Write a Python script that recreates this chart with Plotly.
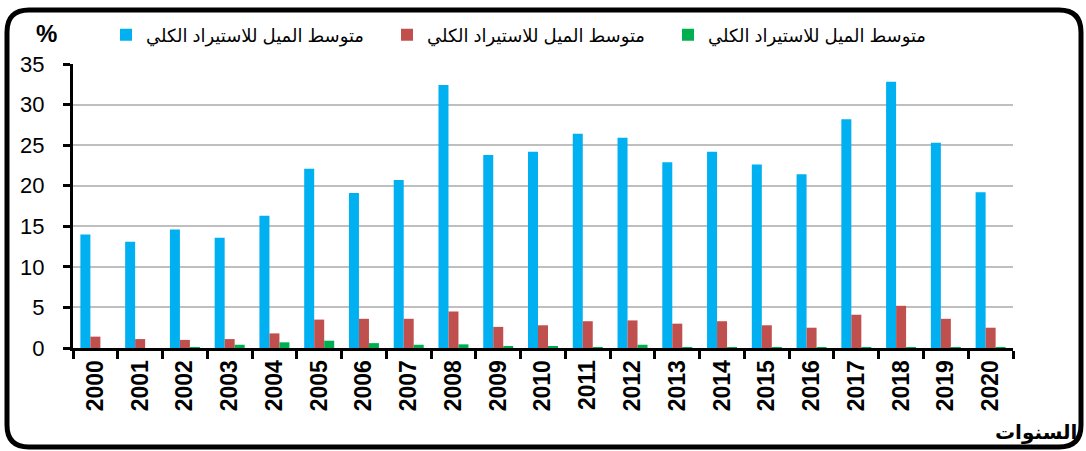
import plotly.graph_objs as go

years = [str(y) for y in range(2000, 2021)]
blue_vals = [14.0, 13.1, 14.6, 13.6, 16.3, 22.1, 19.1, 20.7, 32.4, 23.8, 24.2,
             26.4, 25.9, 22.9, 24.2, 22.6, 21.4, 28.2, 32.8, 25.3, 19.2]
red_vals = [1.4, 1.1, 1.0, 1.1, 1.8, 3.5, 3.6, 3.6, 4.5, 2.6, 2.8,
            3.3, 3.4, 3.0, 3.3, 2.8, 2.5, 4.1, 5.2, 3.6, 2.5]
green_vals = [0.0, 0.0, 0.1, 0.4, 0.7, 0.9, 0.6, 0.4, 0.45, 0.15, 0.2,
              0.1, 0.4, 0.05, 0.1, 0.05, 0.05, 0.05, 0.1, 0.1, 0.05]
series_name = "متوسط الميل للاستيراد الكلي"
y_ticks = [0, 5, 10, 15, 20, 25, 30, 35]

W, H = 1086, 451
ml, mr, mt, mb = 73, 73, 64, 103
pw, ph = W - ml - mr, H - mt - mb


def px(x):
    return (x - ml) / pw


def py(y):
    return (H - mb - y) / ph


def rounded_box(x0, y0, x1, y1, r):
    pts = [
        "M %f,%f" % (px(x0 + r), py(y0)),
        "L %f,%f" % (px(x1 - r), py(y0)),
        "Q %f,%f %f,%f" % (px(x1), py(y0), px(x1), py(y0 + r)),
        "L %f,%f" % (px(x1), py(y1 - r)),
        "Q %f,%f %f,%f" % (px(x1), py(y1), px(x1 - r), py(y1)),
        "L %f,%f" % (px(x0 + r), py(y1)),
        "Q %f,%f %f,%f" % (px(x0), py(y1), px(x0), py(y1 - r)),
        "L %f,%f" % (px(x0), py(y0 + r)),
        "Q %f,%f %f,%f" % (px(x0), py(y0), px(x0 + r), py(y0)),
        "Z",
    ]
    return " ".join(pts)


font_fam = "Arial, Liberation Sans, DejaVu Sans, sans-serif"
colors = ["#00B0F0", "#C0504D", "#00B050"]
traces = []
for vals, col in zip([blue_vals, red_vals, green_vals], colors):
    traces.append(go.Bar(
        x=years, y=vals, name=series_name,
        marker=dict(color=col, line=dict(width=0)),
    ))

fig = go.Figure(data=traces)
fig.update_layout(
    width=W, height=H,
    margin=dict(l=ml, r=mr, t=mt, b=mb, autoexpand=False),
    plot_bgcolor="white", paper_bgcolor="white",
    barmode="group", bargap=0.33, bargroupgap=0,
    font=dict(family=font_fam, color="black"),
    showlegend=True,
    legend=dict(
        orientation="h", x=px(106), y=py(35), xanchor="left", yanchor="middle",
        font=dict(size=18, color="black"), entrywidth=236, entrywidthmode="pixels",
        bgcolor="rgba(0,0,0,0)", itemclick=False,
    ),
    xaxis=dict(
        type="category", tickson="boundaries", ticks="outside", ticklen=8,
        tickwidth=3, tickcolor="black", showline=True, linecolor="black",
        linewidth=3, tickangle=-90, tickfont=dict(size=23, family=font_fam),
        showgrid=False, automargin=False,
    ),
    yaxis=dict(
        range=[0, 35], tickvals=y_ticks, ticks="outside", ticklen=7, tickwidth=3,
        tickcolor="black", showline=True, linecolor="black", linewidth=3,
        showgrid=True, gridcolor="#BFBFBF", gridwidth=2, zeroline=False,
        tickfont=dict(size=22), ticklabelstandoff=14, automargin=False,
    ),
    shapes=[dict(
        type="path", xref="paper", yref="paper",
        path=rounded_box(7, 10, 1081, 447, 22),
        line=dict(color="black", width=5), layer="above",
    )],
    annotations=[
        dict(text="<b>%</b>", x=px(46), y=py(34), xref="paper", yref="paper",
             xanchor="center", yanchor="middle",
             showarrow=False, font=dict(size=24)),
        dict(text="<b>السنوات</b>", x=px(1036), y=py(432), xref="paper",
             yref="paper", xanchor="center", yanchor="middle",
             showarrow=False, font=dict(size=20)),
    ],
)
fig.update_xaxes(ticktext=["<b>%s</b>" % y for y in years], tickvals=years)

fig.write_html("out.html", config={"displayModeBar": False},
               post_script="document.body.style.margin='0';")
